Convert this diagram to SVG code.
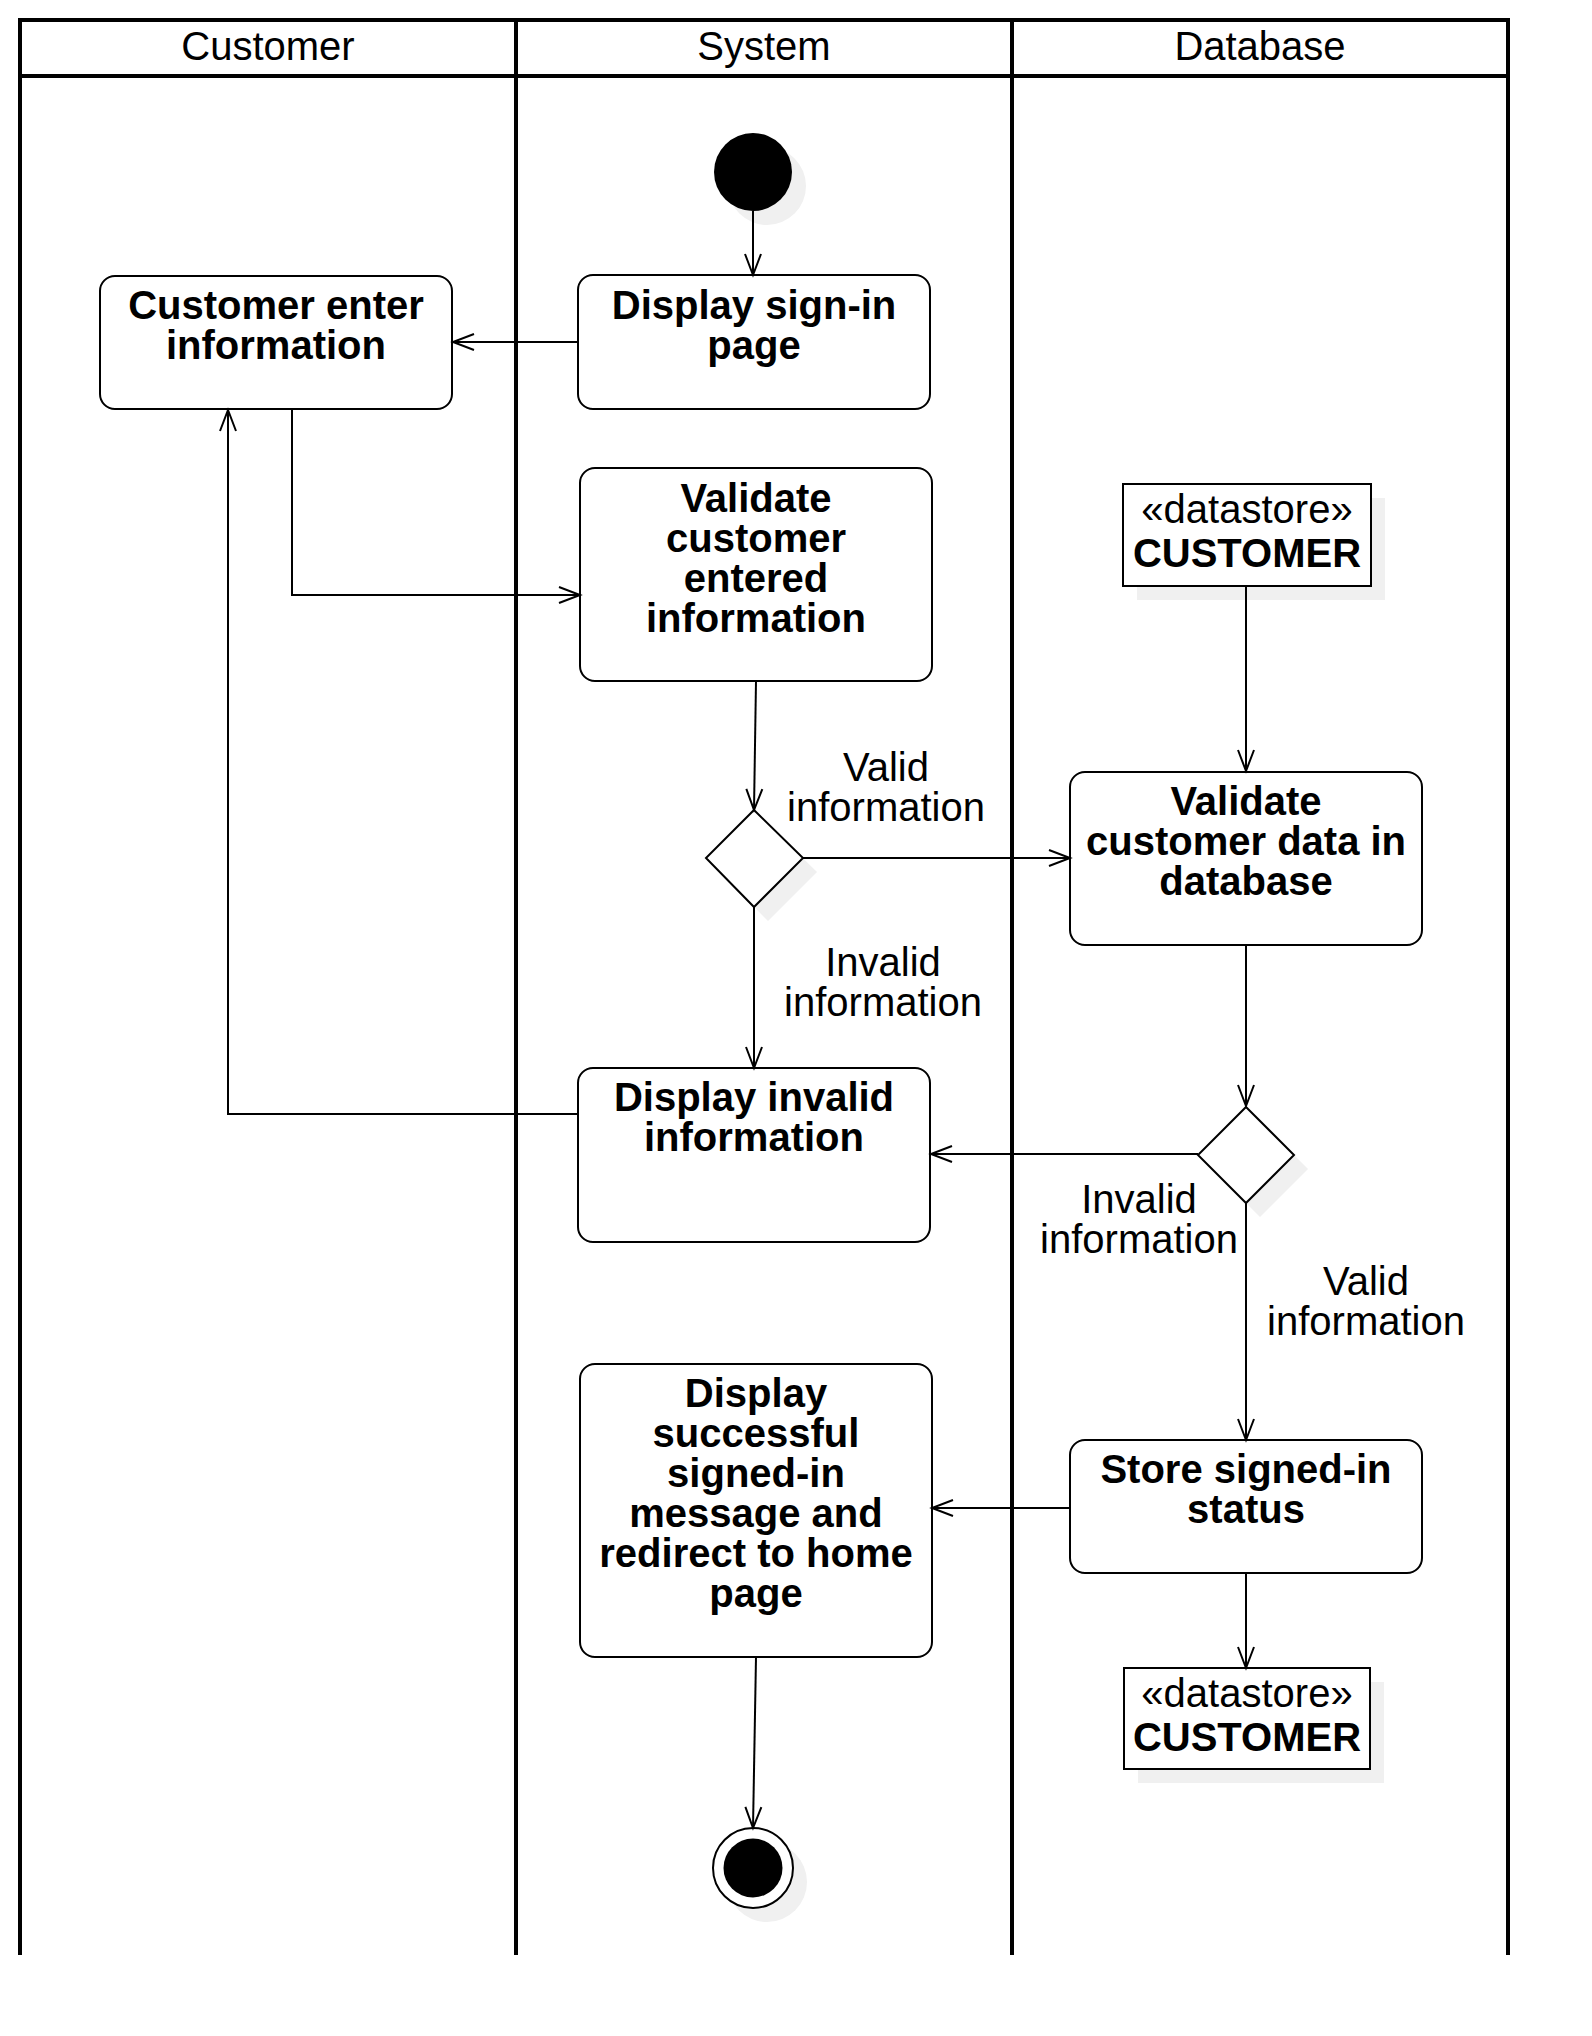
<svg xmlns="http://www.w3.org/2000/svg" width="1592" height="2036" viewBox="0 0 1592 2036">
  <style>
    .pool { stroke:#000; stroke-width:4; fill:none; }
    .box { fill:#fff; stroke:#000; stroke-width:2; }
    .shadow { fill:#f0f0f0; stroke:none; }
    .edge { fill:none; stroke:#000; stroke-width:2; marker-end:url(#arr); }
    .hdr { font-family:"Liberation Sans", Arial, sans-serif; font-size:40px; fill:#000; text-anchor:middle; }
    .bold { font-family:"Liberation Sans", Arial, sans-serif; font-size:40px; font-weight:bold; fill:#000; text-anchor:middle; }
    .lbl { font-family:"Liberation Sans", Arial, sans-serif; font-size:40px; fill:#000; text-anchor:middle; }
  </style>
  <defs>
    <marker id="arr" markerUnits="userSpaceOnUse" markerWidth="30" markerHeight="24" viewBox="-26 -12 30 24" refX="0" refY="0" orient="auto" overflow="visible">
      <path d="M-21,-8 L0,0 L-21,8" fill="none" stroke="#000" stroke-width="2"/>
    </marker>
  </defs>
  <rect width="1592" height="2036" fill="#fff"/>

  <g id="pool">
    <line class="pool" x1="18" y1="20" x2="1510" y2="20"/>
    <line class="pool" x1="18" y1="76" x2="1510" y2="76"/>
    <line class="pool" x1="20" y1="18" x2="20" y2="1955"/>
    <line class="pool" x1="516" y1="18" x2="516" y2="1955"/>
    <line class="pool" x1="1012" y1="18" x2="1012" y2="1955"/>
    <line class="pool" x1="1508" y1="18" x2="1508" y2="1955"/>
    <text class="hdr" x="268" y="60">Customer</text>
    <text class="hdr" x="764" y="60">System</text>
    <text class="hdr" x="1260" y="60">Database</text>
  </g>

  <g id="start">
    <circle class="shadow" cx="767" cy="186" r="39"/>
    <circle cx="753" cy="172" r="39" fill="#000"/>
  </g>

  <g id="customer-enter">
    <rect class="box" x="100" y="276" width="352" height="133" rx="15"/>
    <text class="bold" x="276" y="319">Customer enter<tspan x="276" dy="40">information</tspan></text>
  </g>

  <g id="display-signin">
    <rect class="box" x="578" y="275" width="352" height="134" rx="15"/>
    <text class="bold" x="754" y="319">Display sign-in<tspan x="754" dy="40">page</tspan></text>
  </g>

  <g id="validate-entered">
    <rect class="box" x="580" y="468" width="352" height="213" rx="15"/>
    <text class="bold" x="756" y="512">Validate<tspan x="756" dy="40">customer</tspan><tspan x="756" dy="40">entered</tspan><tspan x="756" dy="40">information</tspan></text>
  </g>

  <g id="datastore-1">
    <rect class="shadow" x="1137" y="498" width="248" height="102"/>
    <rect class="box" x="1123" y="484" width="248" height="102"/>
    <text class="lbl" x="1247" y="523">«datastore»<tspan x="1247" dy="44" font-weight="bold">CUSTOMER</tspan></text>
  </g>

  <g id="decision-1">
    <polygon class="shadow" points="768,824 817,872 768,921 720,872"/>
    <polygon class="box" points="754,810 803,858 754,907 706,858"/>
  </g>

  <g id="validate-db">
    <rect class="box" x="1070" y="772" width="352" height="173" rx="15"/>
    <text class="bold" x="1246" y="815">Validate<tspan x="1246" dy="40">customer data in</tspan><tspan x="1246" dy="40">database</tspan></text>
  </g>

  <g id="display-invalid">
    <rect class="box" x="578" y="1068" width="352" height="174" rx="15"/>
    <text class="bold" x="754" y="1111">Display invalid<tspan x="754" dy="40">information</tspan></text>
  </g>

  <g id="decision-2">
    <polygon class="shadow" points="1260,1121 1308,1169 1260,1217 1212,1169"/>
    <polygon class="box" points="1246,1107 1294,1155 1246,1203 1198,1155"/>
  </g>

  <g id="display-success">
    <rect class="box" x="580" y="1364" width="352" height="293" rx="15"/>
    <text class="bold" x="756" y="1407">Display<tspan x="756" dy="40">successful</tspan><tspan x="756" dy="40">signed-in</tspan><tspan x="756" dy="40">message and</tspan><tspan x="756" dy="40">redirect to home</tspan><tspan x="756" dy="40">page</tspan></text>
  </g>

  <g id="store-status">
    <rect class="box" x="1070" y="1440" width="352" height="133" rx="15"/>
    <text class="bold" x="1246" y="1483">Store signed-in<tspan x="1246" dy="40">status</tspan></text>
  </g>

  <g id="datastore-2">
    <rect class="shadow" x="1138" y="1682" width="246" height="101"/>
    <rect class="box" x="1124" y="1668" width="246" height="101"/>
    <text class="lbl" x="1247" y="1707">«datastore»<tspan x="1247" dy="44" font-weight="bold">CUSTOMER</tspan></text>
  </g>

  <g id="end">
    <circle class="shadow" cx="767" cy="1882" r="40"/>
    <circle cx="753" cy="1868" r="40" fill="#fff" stroke="#000" stroke-width="2"/>
    <circle cx="753" cy="1868" r="29.5" fill="#000"/>
  </g>

  <g id="connectors">
    <line class="edge" x1="753" y1="211" x2="753" y2="275"/>
    <line class="edge" x1="578" y1="342" x2="453" y2="342"/>
    <polyline class="edge" points="292,409 292,595 580,595"/>
    <line class="edge" x1="756" y1="681" x2="754" y2="810"/>
    <line class="edge" x1="803" y1="858" x2="1070" y2="858"/>
    <line class="edge" x1="754" y1="907" x2="754" y2="1068"/>
    <polyline class="edge" points="578,1114 228,1114 228,410"/>
    <line class="edge" x1="1246" y1="586" x2="1246" y2="771"/>
    <line class="edge" x1="1246" y1="945" x2="1246" y2="1106"/>
    <line class="edge" x1="1198" y1="1154" x2="931" y2="1154"/>
    <line class="edge" x1="1246" y1="1203" x2="1246" y2="1440"/>
    <line class="edge" x1="1070" y1="1508" x2="932" y2="1508"/>
    <line class="edge" x1="1246" y1="1573" x2="1246" y2="1668"/>
    <line class="edge" x1="756" y1="1657" x2="753" y2="1828"/>
    <text class="lbl" x="886" y="781">Valid<tspan x="886" dy="40">information</tspan></text>
    <text class="lbl" x="883" y="976">Invalid<tspan x="883" dy="40">information</tspan></text>
    <text class="lbl" x="1139" y="1213">Invalid<tspan x="1139" dy="40">information</tspan></text>
    <text class="lbl" x="1366" y="1295">Valid<tspan x="1366" dy="40">information</tspan></text>
  </g>
</svg>
